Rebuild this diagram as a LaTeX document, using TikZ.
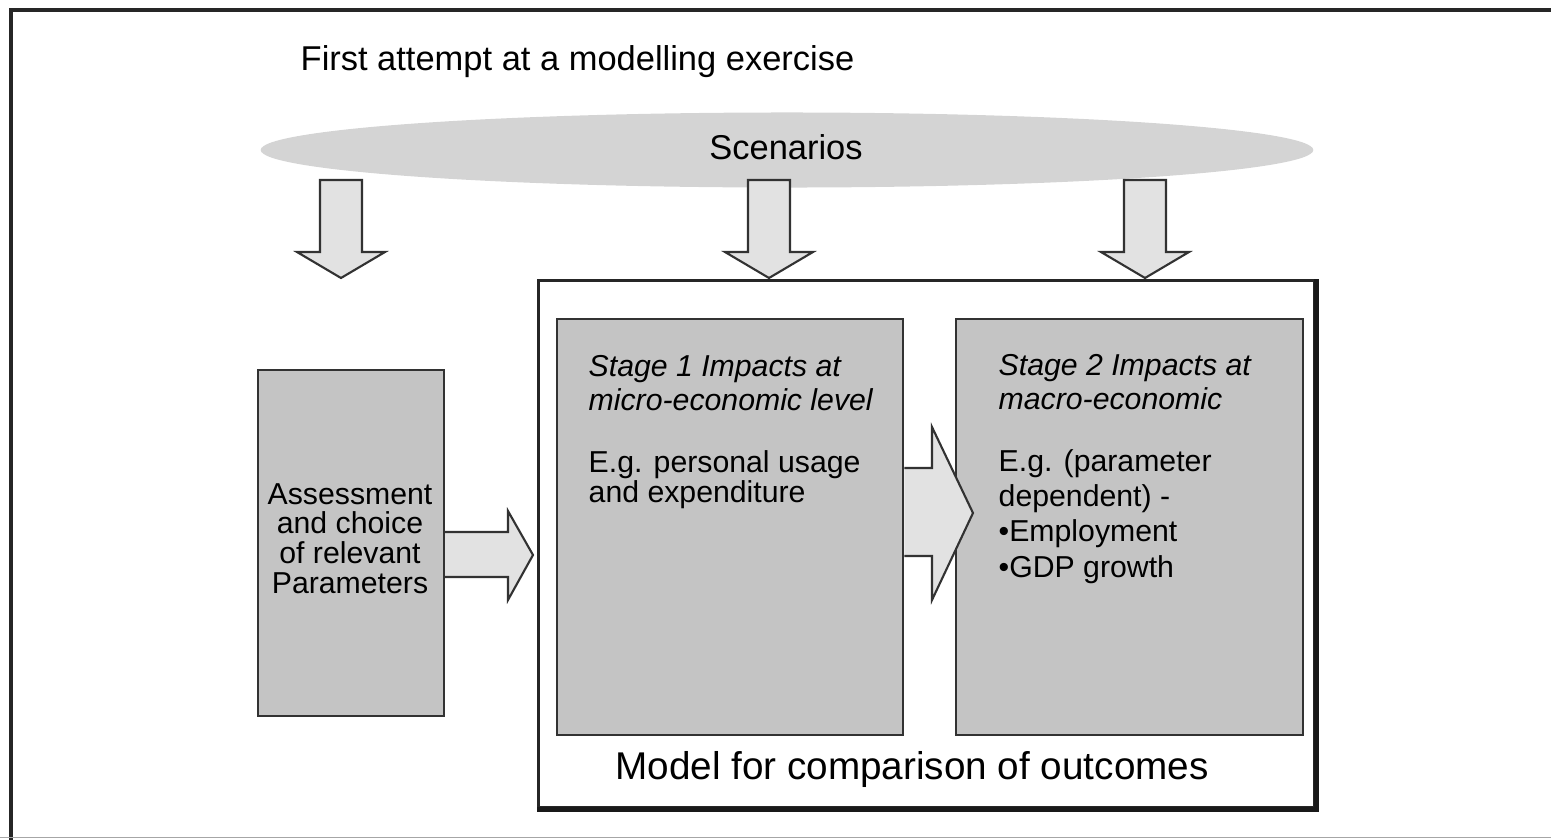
\documentclass[tikz,border=0pt]{standalone}
\usepackage{fontspec}
\setmainfont{Liberation Sans}
\usepackage{tikz}
\usetikzlibrary{shapes.geometric}

\definecolor{boxgrey}{RGB}{196,196,196}
\definecolor{ellgrey}{RGB}{212,212,212}
\definecolor{arrowgrey}{RGB}{226,226,226}
\definecolor{edgegrey}{RGB}{50,50,50}

\tikzset{
  panel/.style={draw=edgegrey,fill=boxgrey,line width=0.6pt,anchor=north west,inner sep=0pt},
  fatarrow/.style={draw=edgegrey,fill=arrowgrey,line width=0.6pt,line join=miter},
  bodytext/.style={inner sep=0pt,font=\fontsize{8.6}{8.4}\selectfont},
}

% block arrow pointing down: centre x, top y
\newcommand{\fatdown}[2]{%
  \draw[fatarrow] (#1-21,#2) -- (#1+21,#2) -- (#1+21,#2+72) -- (#1+44,#2+72)
    -- (#1,#2+98) -- (#1-44,#2+72) -- (#1-21,#2+72) -- cycle;}

\begin{document}
\begin{tikzpicture}[x=0.01cm,y=-0.01cm]
       \useasboundingbox (0,0) rectangle (1551,839);
       % frame
       \draw[line width=1.4pt,black!85] (11,845) -- (11,10) -- (1560,10);
       \draw[black!35,line width=0.3pt] (0,837.5) -- (1551,837.5);
       \node[anchor=base west,inner sep=0pt,font=\fontsize{9.8}{11}\selectfont] (title) at (300,70) {First attempt at a modelling exercise};
       % scenarios
       \node[ellipse,fill=ellgrey,minimum width=10.52cm,minimum height=0.75cm] (scen) at (787,150) {};
       \node[anchor=base,inner sep=0pt,font=\fontsize{9.8}{11}\selectfont] (scentext) at (786,159) {Scenarios};
       \fatdown{341}{180}
       \fatdown{769}{180}
       \fatdown{1145}{180}
       % model box
       \node[draw=black!85,line width=0.9pt,anchor=north west,minimum width=7.76cm,minimum height=5.27cm] (model) at (537,279) {};
       \draw[black!90,line width=1.6pt] (model.north east) -- (model.south east) -- (model.south west);
       \node[anchor=base,inner sep=0pt,font=\fontsize{11}{13}\selectfont] (modeltext) at (912,779) {Model for comparison of outcomes};
       % boxes
       \node[panel,minimum width=1.86cm,minimum height=3.46cm] (assess) at (257,369) {};
       \node[panel,minimum width=3.46cm,minimum height=4.16cm] (stage1) at (556,318) {};
       \node[panel,minimum width=3.47cm,minimum height=4.16cm] (stage2) at (955,318) {};
       % multi-line texts sit on their last baseline
       \node[bodytext,align=center,anchor=base] (assesstext) at (350,593) {Assessment\\and choice\\of relevant\\Parameters};
       \node[bodytext,align=left,anchor=base west,font=\fontsize{8.6}{9.4}\selectfont\itshape] (s1head) at (588,410) {Stage 1 Impacts at\\micro-economic level};
       \node[bodytext,align=left,anchor=base west,font=\fontsize{8.6}{8.5}\selectfont] (s1body) at (588,502) {E.g. personal usage\\and expenditure};
       \node[bodytext,align=left,anchor=base west,font=\fontsize{8.6}{9.4}\selectfont\itshape] (s2head) at (998,409) {Stage 2 Impacts at\\macro-economic};
       \node[bodytext,align=left,anchor=base west,font=\fontsize{8.6}{10}\selectfont] (s2body) at (998,577) {E.g. (parameter\\dependent) -\\•Employment\\•GDP growth};
       % arrows between boxes
       \draw[fatarrow] (assess.east |- 0,532) -- (508,532) -- (508,511) -- (533,555)
         -- (508,600) -- (508,577) -- (assess.east |- 0,577);
       \draw[fatarrow] (stage1.east |- 0,468) -- (932,468) -- (932,427) -- (973,513)
         -- (932,600) -- (932,556) -- (stage1.east |- 0,556);
\end{tikzpicture}
\end{document}
